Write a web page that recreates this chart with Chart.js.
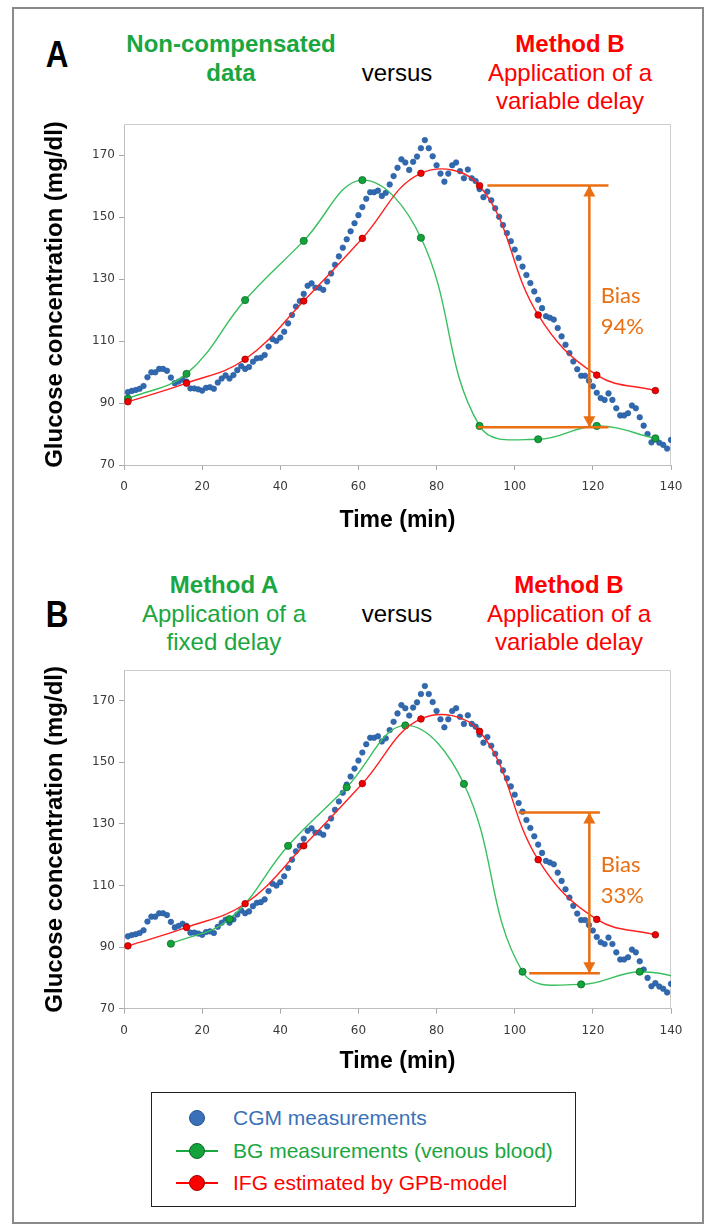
<!DOCTYPE html>
<html><head><meta charset="utf-8">
<script src="https://cdn.jsdelivr.net/npm/chart.js@4.4.1/dist/chart.umd.min.js"></script>
<style>
html,body{margin:0;padding:0;background:#fff;}
body{width:711px;height:1230px;position:relative;overflow:hidden;font-family:"Liberation Sans",Arial,Helvetica,sans-serif;}
.frame{position:absolute;left:12px;top:7px;width:688px;height:1213px;border:2px solid #8a8a8a;}
canvas{position:absolute;left:0;}
.hdr{position:absolute;font-size:24px;line-height:28.5px;text-align:center;white-space:nowrap;transform:translateX(-50%);}
.b{font-weight:bold;}
.green{color:#1AA640}.red{color:#FF0000}.black{color:#000}
.letter{position:absolute;font-size:37px;line-height:37px;font-weight:bold;color:#000;transform:translateX(-50%) scaleX(0.85);}
.legend{position:absolute;left:151px;top:1092px;width:423px;height:113px;border:1px solid #222;}
.lgtext{position:absolute;left:233px;font-size:21px;line-height:32.5px;white-space:nowrap;}
.dot{position:absolute;width:16px;height:16px;border-radius:50%;box-sizing:border-box;}
.lgline{position:absolute;left:176px;width:42px;height:2px;}
</style>
</head>
<body>
<div class="frame"></div>

<div class="letter" style="left:57px;top:35.7px;">A</div>
<div class="hdr b green" style="left:231px;top:30.4px;">Non-compensated<br>data</div>
<div class="hdr black" style="left:397px;top:59px;">versus</div>
<div class="hdr red" style="left:570px;top:30.4px;"><span class="b">Method B</span><br>Application of a<br>variable delay</div>

<div class="letter" style="left:57px;top:595.7px;">B</div>
<div class="hdr green" style="left:224px;top:571.4px;"><span class="b">Method A</span><br>Application of a<br>fixed delay</div>
<div class="hdr black" style="left:397px;top:600px;">versus</div>
<div class="hdr red" style="left:569px;top:571.4px;"><span class="b">Method B</span><br>Application of a<br>variable delay</div>

<canvas id="chartA" width="711" height="440" style="top:100px;"></canvas>
<canvas id="chartB" width="711" height="440" style="top:640px;"></canvas>

<div class="legend"></div>
<div class="dot" style="left:189px;top:1110px;background:#3A70B8;border:1px solid #24548f;"></div>
<div class="lgtext" style="top:1102px;color:#3A72B8;">CGM measurements</div>
<div class="lgline" style="top:1150px;background:#1AA640;"></div>
<div class="dot" style="left:189px;top:1143px;background:#12A33A;border:1px solid #0b6b27;"></div>
<div class="lgtext" style="top:1134.5px;color:#1AA640;">BG measurements (venous blood)</div>
<div class="lgline" style="top:1182px;background:#FF0000;"></div>
<div class="dot" style="left:189px;top:1175px;background:#FF0000;border:1px solid #a00000;"></div>
<div class="lgtext" style="top:1167px;color:#FF0000;">IFG estimated by GPB-model</div>

<script>
// ---------- DATA ----------
const xTicks = [0, 20, 40, 60, 80, 100, 120, 140];
const yTicks = [70, 90, 110, 130, 150, 170];

const cgmTime = [
  1,2,3,4,5,6,7,8,9,10,
  11,12,13,14,15,16,17,18,19,20,
  21,22,23,24,25,26,27,28,29,30,
  31,32,33,34,35,36,37,38,39,40,
  41,42,43,44,45,46,47,48,49,50,
  51,52,53,54,55,56,57,58,59,60,
  61,62,63,64,65,66,67,68,69,70,
  71,72,73,74,75,76,77,78,79,80,
  81,82,83,84,85,86,87,88,89,90,
  91,92,93,94,95,96,97,98,99,100,
  101,102,103,104,105,106,107,108,109,110,
  111,112,113,114,115,116,117,118,119,120,
  121,122,123,124,125,126,127,128,129,130,
  131,132,133,134,135,136,137,138,139,140
];
const cgmValues = [
  93.5,93.9,94.2,94.6,95.5,98.3,99.9,99.9,101,101,
  100.4,98.2,96.4,96.9,97.6,96.9,94.7,94.7,94.4,94,
  94.9,95.1,94.6,96.6,97.9,98.9,97.9,99,100.6,101.9,
  101,101.6,103.3,104.4,104.6,105.5,108.2,110.6,110,111.1,
  113,115.7,118.4,121.1,122.9,125.2,127.8,128.6,127.2,127.2,
  126.5,129.2,131.8,134.6,137.3,140.1,142.8,145.4,148,150.6,
  153.2,155.9,158,158,158.5,156.8,157.8,160.5,163.2,165.9,
  168.6,167.6,165.2,167.8,169.5,172.2,174.8,172.2,169.6,166.7,
  164,161.4,164,166.7,167.6,164.8,162.5,165.3,162.5,161.6,
  159,156.4,158.2,155.4,152.8,150.1,147.4,144.8,142.2,139.5,
  136.8,134,131.3,128.7,126,123.3,120.6,118,117.5,116.9,
  114.2,111.5,108.8,106.1,103.4,100.9,98.8,98.8,97.2,95.4,
  93.3,91.6,91,93.1,91,88.3,86,86,86.7,89.2,
  88.3,85.4,82.7,80,77.3,78.3,77.2,76.5,75.3,78.1
];

// BG measurements: panel A (non-compensated), panel B (Method A, fixed delay)
const bgTimeA = [1, 16, 31, 46, 61, 76, 91, 106, 121, 136];
const bgValuesA = [91.4, 99.4, 123.2, 142.3, 161.9, 143.3, 82.6, 78.3, 82.6, 78.6];
const bgTimeB = [12, 27, 42, 57, 72, 87, 102, 117, 132, 147];
const bgValuesB = [91.1, 99.1, 122.9, 141.9, 162, 143, 82, 77.9, 82, 78.6];

// IFG estimated by GPB-model (Method B, variable delay)
const ifgTime = [1, 16, 31, 46, 61, 76, 91, 106, 121, 136];
const ifgValues = [90.4, 96.4, 104.1, 122.9, 143.1, 164.1, 160.1, 118.4, 99, 94];

// Bias annotations
const biasTopA = [{x: 93, y: 160.2}, {x: 124, y: 160.2}];
const biasBottomA = [{x: 90.5, y: 82.2}, {x: 124, y: 82.2}];
const biasArrowA = [{x: 119.1, y: 160.2}, {x: 119.1, y: 82.2}];
const biasTextA = ['Bias', '94%'];
const biasTextAnchorA = {x: 122, y: 119.5};

const biasTopB = [{x: 101, y: 133.7}, {x: 121.8, y: 133.7}];
const biasBottomB = [{x: 103.7, y: 81.5}, {x: 121.8, y: 81.5}];
const biasArrowB = [{x: 119.1, y: 133.7}, {x: 119.1, y: 81.5}];
const biasTextB = ['Bias', '33%'];
const biasTextAnchorB = {x: 122, y: 111.7};

// ---------- STYLE ----------
const ORANGE = '#EA6F12';
const zip = (xs, ys) => xs.map((x, i) => ({x: x, y: ys[i]}));

Chart.defaults.font.family = '"Liberation Sans", Arial, Helvetica, sans-serif';
Chart.defaults.color = '#333';

const framePlugin = {
  id: 'plotFrame',
  beforeDatasetsDraw(chart) {
    const {ctx, chartArea: a} = chart;
    ctx.save();
    ctx.strokeStyle = '#CDCDCD';
    ctx.lineWidth = 1;
    ctx.beginPath();
    ctx.moveTo(a.left, a.top + 0.5);
    ctx.lineTo(a.right - 0.5, a.top + 0.5);
    ctx.lineTo(a.right - 0.5, a.bottom);
    ctx.stroke();
    ctx.restore();
  }
};

const biasPlugin = {
  id: 'biasMarks',
  afterDatasetsDraw(chart, args, opts) {
    const ctx = chart.ctx;
    ctx.save();
    chart.data.datasets.forEach((ds, i) => {
      if (!ds.isArrow) return;
      const pts = chart.getDatasetMeta(i).data;
      const p0 = pts[0], p1 = pts[1];
      const hw = 6, h = 11;
      ctx.fillStyle = ORANGE;
      ctx.beginPath();
      ctx.moveTo(p0.x, p0.y);
      ctx.lineTo(p0.x - hw, p0.y + h);
      ctx.lineTo(p0.x + hw, p0.y + h);
      ctx.closePath();
      ctx.fill();
      ctx.beginPath();
      ctx.moveTo(p1.x, p1.y);
      ctx.lineTo(p1.x - hw, p1.y - h);
      ctx.lineTo(p1.x + hw, p1.y - h);
      ctx.closePath();
      ctx.fill();
    });
    if (opts && opts.lines) {
      const px = chart.scales.x.getPixelForValue(opts.anchor.x);
      const py = chart.scales.y.getPixelForValue(opts.anchor.y);
      ctx.fillStyle = ORANGE;
      ctx.font = '22px Lato, "Open Sans", sans-serif';
      ctx.textAlign = 'left';
      ctx.textBaseline = 'middle';
      const lh = 31;
      const n = opts.lines.length;
      opts.lines.forEach((t, k) => {
        ctx.fillText(t, px, py + (k - (n - 1) / 2) * lh);
      });
    }
    ctx.restore();
  }
};

function makeChart(id, p) {
  const datasets = [
    {label: 'biasTop', data: p.biasTop, borderColor: ORANGE, borderWidth: 2.5, pointRadius: 0, tension: 0, order: 0},
    {label: 'biasBottom', data: p.biasBottom, borderColor: ORANGE, borderWidth: 2.5, pointRadius: 0, tension: 0, order: 0},
    {label: 'biasArrow', data: p.biasArrow, borderColor: ORANGE, borderWidth: 2.5, pointRadius: 0, tension: 0, order: 0, isArrow: true},
    {label: 'IFG estimated by GPB-model', data: zip(ifgTime, ifgValues), borderColor: '#FF2020', borderWidth: 1.4,
      pointRadius: 3.3, pointBackgroundColor: '#F00000', pointBorderColor: '#A00000', pointBorderWidth: 0.8, tension: 0.4, order: 1},
    {label: 'BG measurements (venous blood)', data: zip(p.bgTime, p.bgValues), borderColor: '#38BF5E', borderWidth: 1.4,
      pointRadius: 3.6, pointBackgroundColor: '#12A33A', pointBorderColor: '#0B6B27', pointBorderWidth: 0.8, tension: 0.4, order: 2},
    {label: 'CGM measurements', data: zip(cgmTime, cgmValues), showLine: false, borderColor: '#2A5C9E',
      pointRadius: 2.8, pointBackgroundColor: '#3069B0', pointBorderColor: '#2A5C9E', pointBorderWidth: 0.6, order: 3}
  ];
  return new Chart(document.getElementById(id), {
    type: 'line',
    data: {datasets},
    options: {
      responsive: false,
      animation: false,
      events: [],
      devicePixelRatio: 1,
      layout: {padding: {top: p.padTop, left: 41, right: 40, bottom: p.padBottom}},
      plugins: {
        legend: {display: false},
        tooltip: {enabled: false},
        biasMarks: {lines: p.biasText, anchor: p.biasAnchor}
      },
      scales: {
        x: {
          type: 'linear', min: 0, max: 140,
          afterBuildTicks: s => { s.ticks = xTicks.map(v => ({value: v})); },
          afterFit: s => { s.height = p.xAxisHeight; },
          ticks: {font: {size: 12, family: '"DejaVu Sans", Verdana, sans-serif'}, color: '#3a3a3a', padding: p.xTickPad, maxRotation: 0},
          grid: {drawOnChartArea: false, drawTicks: true, tickLength: 5, color: '#A8A8A8'},
          border: {display: true, color: '#BDBDBD', width: 1},
          title: {display: true, text: 'Time (min)', color: '#000', font: {size: 23, weight: 'bold'}, padding: {top: 0, bottom: 0}}
        },
        y: {
          type: 'linear', min: 70, max: 180,
          afterBuildTicks: s => { s.ticks = yTicks.map(v => ({value: v})); },
          afterFit: s => { s.width = 83; },
          ticks: {font: {size: 12, family: '"DejaVu Sans", Verdana, sans-serif'}, color: '#3a3a3a', padding: 4},
          grid: {drawOnChartArea: false, drawTicks: true, tickLength: 5, color: '#A8A8A8'},
          border: {display: true, color: '#BDBDBD', width: 1},
          title: {display: true, text: 'Glucose concentration (mg/dl)', color: '#000', font: {size: 24, weight: 'bold'}, padding: {top: 0, bottom: 0}}
        }
      }
    },
    plugins: [framePlugin, biasPlugin]
  });
}

makeChart('chartA', {
  bgTime: bgTimeA, bgValues: bgValuesA,
  biasTop: biasTopA, biasBottom: biasBottomA, biasArrow: biasArrowA,
  biasText: biasTextA, biasAnchor: biasTextAnchorA,
  padTop: 24, padBottom: 6.0, xAxisHeight: 69.0, xTickPad: 10
});
makeChart('chartB', {
  bgTime: bgTimeB, bgValues: bgValuesB,
  biasTop: biasTopB, biasBottom: biasBottomB, biasArrow: biasArrowB,
  biasText: biasTextB, biasAnchor: biasTextAnchorB,
  padTop: 30, padBottom: 4.6, xAxisHeight: 66.7, xTickPad: 9.5
});
</script>
</body></html>
